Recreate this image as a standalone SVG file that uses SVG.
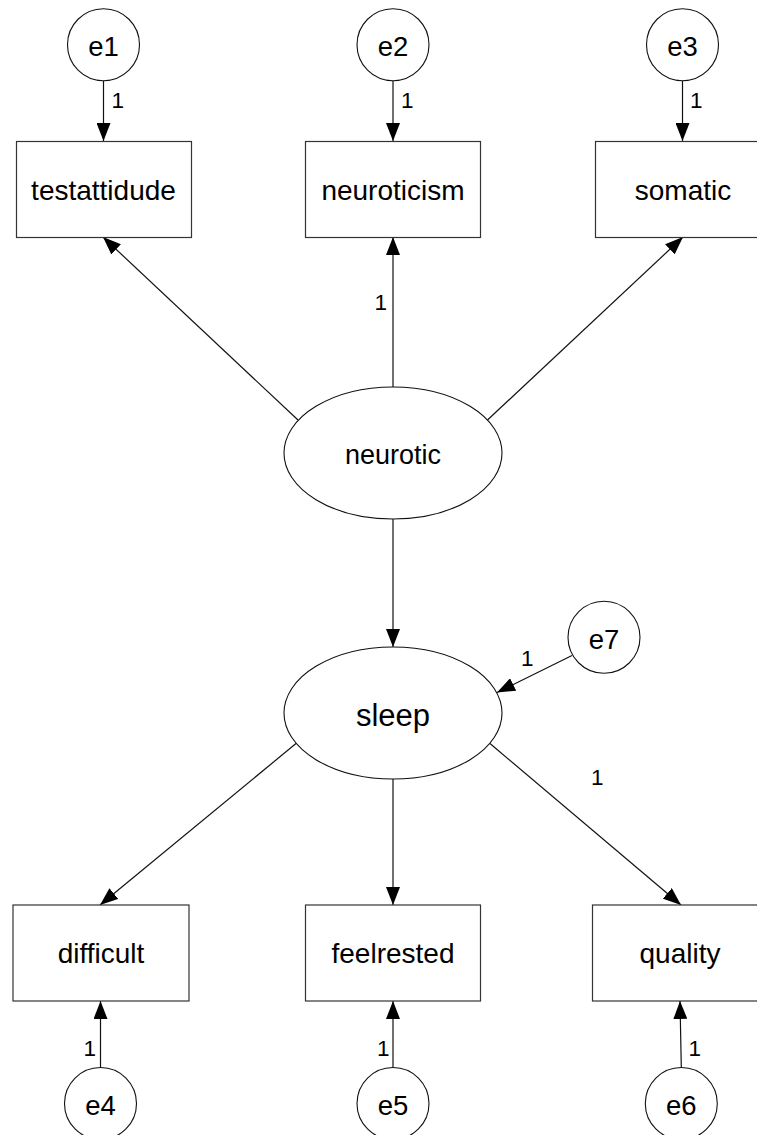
<svg xmlns="http://www.w3.org/2000/svg" width="757" height="1135" viewBox="0 0 757 1135">
  <defs>
    <marker id="arrow" markerUnits="userSpaceOnUse" markerWidth="18" markerHeight="14" refX="18" refY="7" orient="auto">
      <path d="M0,0 L18,7 L0,14 z" fill="#000"/>
    </marker>
    <style>
      .box { fill: #fff; stroke: #333; stroke-width: 1.2; }
      .lat { fill: #fff; stroke: #111; stroke-width: 1.1; }
      .err { fill: #fff; stroke: #111; stroke-width: 1.1; }
      .edge { stroke: #111; stroke-width: 1.2; fill: none; marker-end: url(#arrow); }
      text { font-family: "Liberation Sans", Arial, sans-serif; fill: #000; }
      .obs { font-size: 28px; text-anchor: middle; }
      .lv { font-size: 27px; text-anchor: middle; }
      .ev { font-size: 27.5px; text-anchor: middle; }
      .w { font-size: 22.5px; }
    </style>
  </defs>
  <rect width="757" height="1135" fill="#fff"/>

  <!-- paths -->
  <g id="connectors">
    <line class="edge" x1="103.5" y1="81" x2="103.5" y2="141"/>
    <line class="edge" x1="393" y1="81" x2="393" y2="141"/>
    <line class="edge" x1="682.5" y1="81" x2="682.5" y2="141"/>
    <line class="edge" x1="298" y1="420" x2="103" y2="237"/>
    <line class="edge" x1="393" y1="387" x2="393" y2="237"/>
    <line class="edge" x1="487.5" y1="420" x2="683" y2="237"/>
    <line class="edge" x1="393" y1="519" x2="393" y2="647"/>
    <line class="edge" x1="572" y1="655.5" x2="497" y2="692.5"/>
    <line class="edge" x1="296" y1="743.5" x2="100" y2="905"/>
    <line class="edge" x1="393" y1="779" x2="393" y2="905"/>
    <line class="edge" x1="490" y1="743.5" x2="681" y2="905"/>
    <line class="edge" x1="100.5" y1="1067.5" x2="100.5" y2="1001"/>
    <line class="edge" x1="393" y1="1067.5" x2="393" y2="1001"/>
    <line class="edge" x1="681.3" y1="1067.5" x2="680" y2="1001"/>
    <!-- fixed weights -->
    <text class="w" x="111.5" y="108">1</text>
    <text class="w" x="401" y="108">1</text>
    <text class="w" x="690" y="108">1</text>
    <text class="w" x="374.5" y="310">1</text>
    <text class="w" x="521" y="666">1</text>
    <text class="w" x="591" y="785">1</text>
    <text class="w" x="83.5" y="1056">1</text>
    <text class="w" x="377" y="1056">1</text>
    <text class="w" x="688.5" y="1056">1</text>
  </g>

  <!-- error terms, top -->
  <g id="e1"><circle class="err" cx="103.5" cy="44.7" r="36"/><text class="ev" x="103.5" y="56">e1</text></g>
  <g id="e2"><circle class="err" cx="393" cy="44.7" r="36"/><text class="ev" x="393" y="56">e2</text></g>
  <g id="e3"><circle class="err" cx="682.5" cy="44.7" r="36"/><text class="ev" x="682.5" y="56">e3</text></g>

  <!-- observed indicators of neurotic -->
  <g id="testattidude"><rect class="box" x="16.5" y="141.5" width="175" height="96"/><text class="obs" x="103.5" y="200">testattidude</text></g>
  <g id="neuroticism"><rect class="box" x="305.5" y="141.5" width="175" height="96"/><text class="obs" x="393" y="200">neuroticism</text></g>
  <g id="somatic"><rect class="box" x="595.5" y="141.5" width="175" height="96"/><text class="obs" x="683" y="200">somatic</text></g>

  <!-- latent variables -->
  <g id="neurotic"><ellipse class="lat" cx="393" cy="453" rx="109" ry="66"/><text class="lv" x="393" y="464">neurotic</text></g>
  <g id="sleep"><ellipse class="lat" cx="393" cy="713" rx="109" ry="66"/><text class="lv" x="393" y="726" style="font-size:31px">sleep</text></g>
  <g id="e7"><circle class="err" cx="604" cy="637.3" r="36"/><text class="ev" x="604" y="649">e7</text></g>

  <!-- observed indicators of sleep -->
  <g id="difficult"><rect class="box" x="13" y="905" width="176" height="96"/><text class="obs" x="101" y="963">difficult</text></g>
  <g id="feelrested"><rect class="box" x="305.5" y="905" width="175" height="96"/><text class="obs" x="393" y="963">feelrested</text></g>
  <g id="quality"><rect class="box" x="592.5" y="905" width="175" height="96"/><text class="obs" x="680" y="963">quality</text></g>

  <!-- error terms, bottom -->
  <g id="e4"><circle class="err" cx="100.5" cy="1103.5" r="36"/><text class="ev" x="100.5" y="1115">e4</text></g>
  <g id="e5"><circle class="err" cx="393" cy="1103.5" r="36"/><text class="ev" x="393" y="1115">e5</text></g>
  <g id="e6"><circle class="err" cx="681.3" cy="1103.5" r="36"/><text class="ev" x="681.3" y="1115">e6</text></g>
</svg>
